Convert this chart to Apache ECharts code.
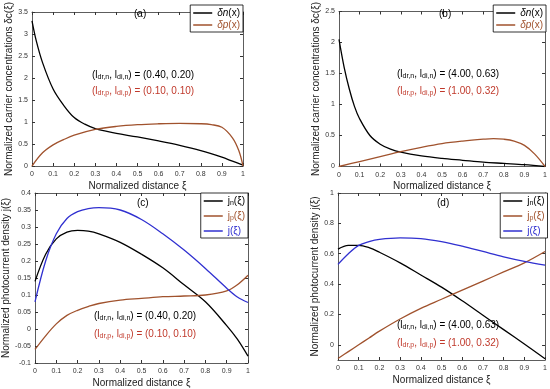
<!DOCTYPE html>
<html><head><meta charset="utf-8">
<script src="https://cdn.jsdelivr.net/npm/echarts@6/dist/echarts.min.js"></script>
<style>html,body{margin:0;padding:0;background:#fff}#c{width:550px;height:389px}</style>
</head><body><div id="c"></div>
<script>
// ---- data ----
const xTicks = [0,0.1,0.2,0.3,0.4,0.5,0.6,0.7,0.8,0.9,1];
// panel (a)
const aN_x = [0,0.02,0.05,0.1,0.15,0.2,0.25,0.3,0.35,0.4,0.5,0.6,0.7,0.8,0.9,0.95,1];
const aN_y = [3.3,2.85,2.35,1.75,1.38,1.1,0.95,0.85,0.79,0.74,0.66,0.57,0.47,0.35,0.2,0.11,0.02];
const aP_x = [0,0.05,0.1,0.15,0.2,0.3,0.4,0.5,0.6,0.7,0.8,0.85,0.9,0.95,0.98,1];
const aP_y = [0,0.3,0.48,0.6,0.7,0.83,0.9,0.94,0.96,0.97,0.96,0.94,0.88,0.64,0.35,0];
// panel (b)
const bN_x = [0,0.025,0.05,0.075,0.1,0.15,0.2,0.25,0.3,0.4,0.5,0.6,0.7,0.8,0.9,1];
const bN_y = [2.05,1.6,1.25,0.97,0.77,0.5,0.36,0.28,0.23,0.17,0.13,0.1,0.07,0.05,0.03,0];
const bP_x = [0,0.1,0.2,0.3,0.4,0.5,0.6,0.7,0.75,0.8,0.85,0.9,0.95,1];
const bP_y = [0,0.08,0.16,0.24,0.31,0.37,0.41,0.44,0.45,0.44,0.41,0.34,0.2,0];
// panel (c)
const cX = [0,0.05,0.1,0.15,0.2,0.25,0.3,0.4,0.5,0.6,0.7,0.8,0.9,0.95,1];
const cJn = [0.14,0.22,0.265,0.285,0.29,0.288,0.28,0.255,0.22,0.18,0.13,0.08,0.01,-0.03,-0.08];
const cJp = [-0.06,-0.02,0.015,0.04,0.055,0.066,0.075,0.085,0.09,0.095,0.097,0.1,0.112,0.13,0.158];
const cJ  = [0.08,0.2,0.28,0.325,0.345,0.354,0.357,0.35,0.322,0.28,0.232,0.178,0.12,0.094,0.078];
// panel (d)
const dX = [0,0.05,0.1,0.15,0.2,0.3,0.4,0.5,0.6,0.7,0.8,0.9,1];
const dJn = [0.63,0.655,0.655,0.64,0.61,0.54,0.46,0.38,0.29,0.195,0.1,0.005,-0.092];
const dJp = [-0.09,-0.045,0.0,0.045,0.09,0.17,0.24,0.3,0.36,0.42,0.48,0.54,0.615];
const dJ  = [0.53,0.6,0.655,0.68,0.695,0.705,0.7,0.68,0.65,0.615,0.58,0.55,0.525];

const yTicksA = [0,0.5,1,1.5,2,2.5,3,3.5];
const yTicksB = [0,0.5,1,1.5,2,2.5];
const yTicksC = [-0.1,-0.05,0,0.05,0.1,0.15,0.2,0.25,0.3,0.35,0.4];
const yTicksD = [0,0.2,0.4,0.6,0.8,1];

const BLACK = '#000000', BROWN = '#a0522d', BLUE = '#3030d0', RED = '#c0392b';
const FONT = 'Liberation Sans, Arial, sans-serif';

function pairs(xs, ys){ return xs.map((x,i)=>[x, ys[i]]); }

const grids = [
  {left:32, top:5, width:211, height:161},
  {left:339, top:5, width:207, height:161.5},
  {left:35, top:193, width:213, height:170},
  {left:338, top:193, width:209.5, height:167}
];
const yRanges = [[0,3.5,yTicksA],[0,2.5,yTicksB],[-0.1,0.4,yTicksC],[-0.1,1,yTicksD]];
const yNames = ['Normalized carrier concentrations δc(ξ)','Normalized carrier concentrations δc(ξ)',
  'Normalized photocurrent density j(ξ)','Normalized photocurrent density j(ξ)'];

const xAxis = [], yAxis = [];
grids.forEach((g,i)=>{
  xAxis.push({type:'value', gridIndex:i, min:0, max:1, position:'bottom',
    name:'Normalized distance ξ', nameLocation:'middle', nameGap:15,
    nameTextStyle:{fontSize:10, color:'#222', fontFamily:FONT},
    axisLine:{onZero:false, lineStyle:{color:'#333', width:0.8}},
    axisTick:{inside:true, length:3, customValues:xTicks, lineStyle:{color:'#333'}},
    axisLabel:{fontSize:7, color:'#333', margin:5, customValues:xTicks, fontFamily:FONT},
    splitLine:{show:false}});
  xAxis.push({type:'value', gridIndex:i, min:0, max:1, position:'top',
    axisLine:{onZero:false, lineStyle:{color:'#333', width:0.8}},
    axisTick:{inside:true, length:3, customValues:xTicks, lineStyle:{color:'#333'}},
    axisLabel:{show:false}, splitLine:{show:false}});
  const [mn,mx,tk] = yRanges[i];
  yAxis.push({type:'value', gridIndex:i, min:mn, max:mx, position:'left',
    name:yNames[i], nameLocation:'middle', nameRotate:90, nameGap: i===2?21:18,
    nameTextStyle:{fontSize:10, color:'#222', fontFamily:FONT},
    axisLine:{onZero:false, lineStyle:{color:'#333', width:0.8}},
    axisTick:{inside:true, length:3, customValues:tk, lineStyle:{color:'#333'}},
    axisLabel:{fontSize:7, color:'#333', margin:4, customValues:tk, fontFamily:FONT},
    splitLine:{show:false}});
  yAxis.push({type:'value', gridIndex:i, min:mn, max:mx, position:'right',
    axisLine:{onZero:false, lineStyle:{color:'#333', width:0.8}},
    axisTick:{inside:true, length:3, customValues:tk, lineStyle:{color:'#333'}},
    axisLabel:{show:false}, splitLine:{show:false}});
});

function line(name, gi, data, color){
  return {type:'line', name, xAxisIndex:gi*2, yAxisIndex:gi*2, data, symbol:'none',
    smooth:0.35, lineStyle:{color, width:1.3}, itemStyle:{color}, z:3, silent:true};
}
const series = [
  line('a_n',0,pairs(aN_x,aN_y),BLACK), line('a_p',0,pairs(aP_x,aP_y),BROWN),
  line('b_n',1,pairs(bN_x,bN_y),BLACK), line('b_p',1,pairs(bP_x,bP_y),BROWN),
  line('c_n',2,pairs(cX,cJn),BLACK), line('c_p',2,pairs(cX,cJp),BROWN), line('c_j',2,pairs(cX,cJ),BLUE),
  line('d_n',3,pairs(dX,dJn),BLACK), line('d_p',3,pairs(dX,dJp),BROWN), line('d_j',3,pairs(dX,dJ),BLUE)
];

const legLabel = {
  a_n:'{it|δn}{b|(x)}', a_p:'{it|δp}{b|(x)}', b_n:'{it|δn}{b|(x)}', b_p:'{it|δp}{b|(x)}',
  c_n:'{b|j}{s|n}{b|(ξ)}', c_p:'{b|j}{s|p}{b|(ξ)}', c_j:'{b|j(ξ)}',
  d_n:'{b|j}{s|n}{b|(ξ)}', d_p:'{b|j}{s|p}{b|(ξ)}', d_j:'{b|j(ξ)}'
};
function legend(names, colors, right, top, gap){
  return {orient:'vertical', right, top, itemGap:gap, itemWidth:19, itemHeight:1.5, icon:'rect',
    padding:[3,3,2,3], borderColor:'#000', borderWidth:0.8, backgroundColor:'#fff', selectedMode:false,
    data: names.map((n,i)=>({name:n, textStyle:{rich:{
      it:{fontSize:10, color:colors[i], fontStyle:'italic', fontFamily:FONT},
      b:{fontSize:10, color:colors[i], fontFamily:FONT},
      s:{fontSize:7, color:colors[i], fontFamily:FONT, padding:[5,0,0,0]}}}})),
    formatter: n => legLabel[n]};
}
const legends = [
  legend(['a_n','a_p'],[BLACK,BROWN], 550-243, 5, 2),
  legend(['b_n','b_p'],[BLACK,BROWN], 550-546, 5, 2),
  legend(['c_n','c_p','c_j'],[BLACK,BROWN,BLUE], 550-248, 193, 4),
  legend(['d_n','d_p','d_j'],[BLACK,BROWN,BLUE], 550-547.5, 193, 4)
];

const annRich = (c)=>({n:{fontSize:10,color:c,fontFamily:FONT}, s:{fontSize:7,color:c,fontFamily:FONT,padding:[5,0,0,0]}});
function ann(x, y, txt, c){
  return {type:'text', left:x, top:y, z:10, style:{text:txt, rich:annRich(c), fill:c, font:'10px '+FONT}};
}
const annN = (v)=>'{n|(l}{s|dr,n}{n|, l}{s|di,n}{n|) = '+v+'}';
const annP = (v)=>'{n|(l}{s|dr,p}{n|, l}{s|di,p}{n|) = '+v+'}';
const panelLabels = [['(a)',134,9],['(b)',439,9],['(c)',137,198],['(d)',437,198]];

const graphic = [
  ann(92,70,annN('(0.40, 0.20)'),BLACK), ann(92,86,annP('(0.10, 0.10)'),RED),
  ann(397,69,annN('(4.00, 0.63)'),BLACK), ann(397,86,annP('(1.00, 0.32)'),RED),
  ann(94,311,annN('(0.40, 0.20)'),BLACK), ann(94,329,annP('(0.10, 0.10)'),RED),
  ann(397,320,annN('(4.00, 0.63)'),BLACK), ann(397,338,annP('(1.00, 0.32)'),RED)
].concat(panelLabels.map(p=>({type:'text', left:p[1], top:p[2], z:10,
  style:{text:p[0], fill:'#000', font:'10px '+FONT}})));

const chart = echarts.init(document.getElementById('c'), null, {renderer:'canvas'});
chart.setOption({animation:false, backgroundColor:'#fff', grid:grids, xAxis, yAxis, series, legend:legends, graphic});
</script></body></html>
